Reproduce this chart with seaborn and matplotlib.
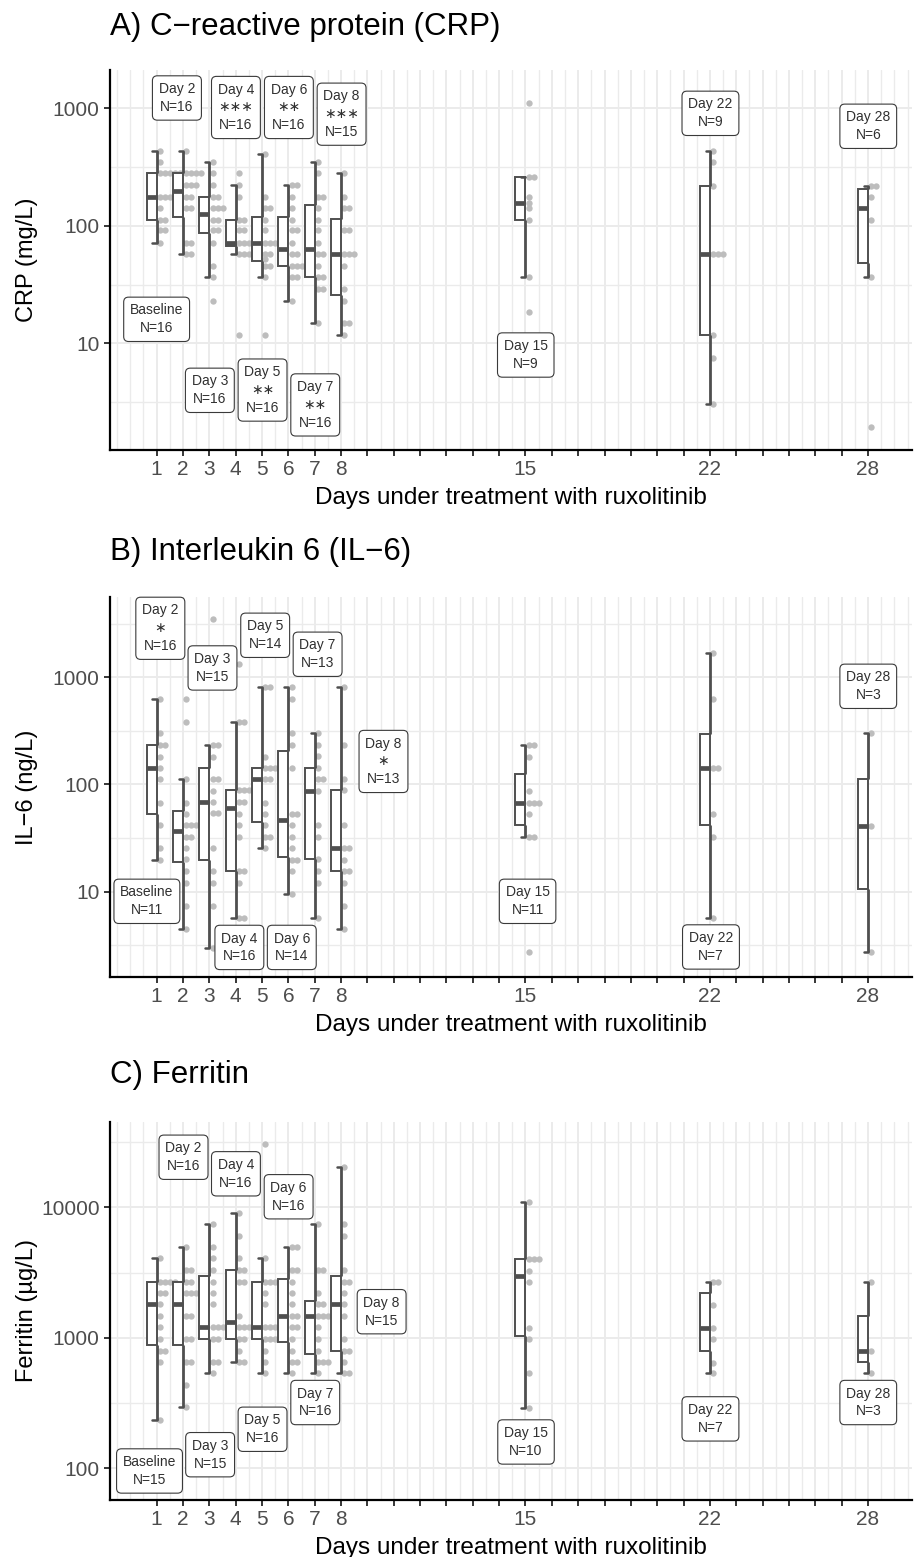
import numpy as np
import pandas as pd
import matplotlib
matplotlib.use("Agg")
import matplotlib.pyplot as plt
from matplotlib.ticker import FixedLocator, FuncFormatter, NullFormatter
import seaborn as sns

# ---------------- data ----------------
days = [1, 2, 3, 4, 5, 6, 7, 8, 15, 22, 28]
labelled_days = [1, 2, 3, 4, 5, 6, 7, 8, 15, 22, 28]

crp_values = [
    [435, 347, 280, 280, 280, 280, 280, 177, 177, 177, 141, 112, 112, 92, 92, 72],
    [435, 280, 280, 280, 280, 222, 222, 222, 177, 177, 141, 141, 72, 72, 57, 57],
    [347, 280, 222, 177, 177, 141, 141, 141, 112, 112, 92, 92, 72, 45.5, 36.5, 23.1],
    [280, 222, 177, 112, 112, 92, 92, 72, 72, 72, 72, 72, 57, 57, 57, 11.8],
    [408, 177, 141, 141, 112, 92, 72, 72, 72, 57, 57, 52, 45.5, 45.5, 36.5, 11.8],
    [222, 222, 177, 141, 112, 92, 92, 72, 57, 57, 45.5, 45.5, 45.5, 36.5, 36.5, 23.1],
    [347, 280, 177, 177, 141, 112, 92, 72, 57, 57, 45.5, 36.5, 36.5, 29, 29, 14.8],
    [280, 177, 141, 141, 92, 92, 57, 57, 57, 45.5, 29, 23.1, 14.8, 14.8, 11.8],
    [1100, 260, 260, 177, 157, 141, 112, 36.5, 18.6],
    [433, 347, 219, 57, 57, 57, 11.8, 7.55, 3.04],
    [219, 219, 177, 112, 36.5, 1.95],
]
il6_values = [
    [623, 300, 233, 233, 182, 143, 112, 67.6, 41.9, 25.4, 19.8],
    [623, 385, 112, 67.6, 52.8, 41.9, 41.9, 41.9, 32.6, 32.6, 25.4, 20, 15.6, 12.1, 7.36, 4.46],
    [3510, 233, 233, 182, 112, 112, 87, 69, 54.6, 54.6, 25.4, 15.6, 12.1, 7.36, 3.0],
    [1331, 385, 385, 89, 89, 89, 69, 69, 52.8, 41.9, 32.6, 15.6, 15.6, 12.1, 5.72, 5.72],
    [807, 807, 182, 143, 143, 143, 112, 112, 67.6, 52.8, 41.9, 32.6, 32.6, 25.4],
    [807, 623, 300, 233, 143, 52.8, 52.8, 41.9, 32.6, 25.4, 19.8, 19.8, 15.6, 9.46],
    [300, 233, 183, 143, 112, 112, 87, 41.9, 32.6, 20, 15.6, 12.1, 5.72],
    [807, 233, 112, 89, 41.9, 25.4, 25.4, 19.8, 15.6, 15.6, 12.1, 7.36, 4.46],
    [233, 233, 182, 87, 67.6, 67.6, 67.6, 52.8, 32.6, 32.6, 2.72],
    [1675, 623, 143, 143, 52.8, 32.6, 5.72],
    [300, 41.4, 2.72],
]
ferritin_values = [
    [4065, 2692, 2692, 2692, 2692, 2193, 2193, 1808, 1477, 1203, 979, 797, 797, 649, 236],
    [4936, 3310, 3310, 2692, 2692, 2193, 2193, 2193, 1477, 1477, 979, 979, 649, 649, 435, 293],
    [7410, 4936, 4065, 3310, 2692, 2193, 1808, 1203, 1203, 1203, 979, 979, 649, 649, 535],
    [9100, 6030, 4065, 3310, 3310, 2692, 2692, 1477, 1203, 1203, 1203, 979, 979, 797, 649, 649],
    [30500, 4065, 2692, 2692, 2692, 2193, 1808, 1203, 1203, 1203, 979, 979, 979, 797, 649, 535],
    [4936, 4936, 3310, 3310, 2692, 2193, 1808, 1477, 1477, 1203, 1203, 979, 797, 649, 649, 535],
    [7410, 3310, 3310, 2193, 1808, 1808, 1477, 1477, 1477, 1203, 979, 797, 649, 649, 649, 535],
    [20460, 7410, 6030, 3310, 2692, 2692, 2193, 1808, 1477, 979, 797, 797, 649, 535, 535],
    [11040, 4018, 4018, 4018, 3266, 2692, 1195, 975, 535, 288],
    [2692, 2692, 1783, 1195, 975, 644, 535],
    [2692, 797, 535],
]

crp_stars = ["", "", "", "***", "**", "**", "**", "***", "", "", ""]
il6_stars = ["", "*", "", "", "", "", "", "*", "", "", ""]
ferritin_stars = ["", "", "", "", "", "", "", "", "", "", ""]

crp_label_x = [1.0, 1.77, 3.02, 4.01, 5.02, 6.02, 7.02, 8.02, 15.01, 22.02, 28.01]
crp_label_y = [16, 1224, 3.98, 1016, 4.0, 1016, 2.99, 891, 7.95, 906, 703]
il6_label_x = [0.63, 1.14, 3.12, 4.14, 5.12, 6.13, 7.11, 9.61, 15.08, 22.04, 28.01]
il6_label_y = [8.13, 2864, 1222, 3.02, 2465, 3.02, 1640, 164, 8.13, 3.05, 824]
ferritin_label_x = [0.73, 2.02, 3.03, 4.01, 5.02, 6.01, 7.02, 9.54, 15.02, 22.02, 28.01]
ferritin_label_y = [95.3, 24200, 127, 18070, 199, 12050, 319, 1585, 159, 239, 319]

crp_ylim = (1.236, 2118)
il6_ylim = (1.6, 5610)
ferritin_ylim = (57.1, 45080)

# ---------------- style ----------------
sns.set_theme(style="ticks")
plt.rcParams["font.family"] = ["Liberation Sans", "DejaVu Sans"]

W, H = 917, 1557
fig = plt.figure(figsize=(W / 100, H / 100), dpi=100)
fig.patch.set_facecolor("white")

BOX_W = 0.38
CAP_W = 0.16
DOT_OFF = 0.13
DOT_STEP = 0.19
BOX_COL = "#4f4f4f"
DOT_COL = "#bdbdbd"
GRID_COL = "#ebebeb"


def add_axes_px(top, bottom, left=110, right=912):
    return fig.add_axes([left / W, 1 - bottom / H, (right - left) / W, (bottom - top) / H])


def draw_panel(ax, values, stars, lab_x, lab_y, ylim, ylabel, title, title_y):
    rows = [(d, v) for d, vals in zip(days, values) for v in vals]
    df = pd.DataFrame(rows, columns=["day", "value"])
    df["box_pos"] = df["day"] - BOX_W / 2
    df["stack"] = df.groupby(["day", "value"]).cumcount()
    df["dot_x"] = df["day"] + DOT_OFF + DOT_STEP * df["stack"]

    ax.set_yscale("log")
    sns.scatterplot(data=df, x="dot_x", y="value", ax=ax, color=DOT_COL, s=21,
                    linewidth=0, zorder=2, legend=False)
    n_before = len(ax.lines)
    sns.boxplot(data=df, x="box_pos", y="value", ax=ax, native_scale=True,
                log_scale=(False, True), width=BOX_W, whis=1.5, showfliers=False,
                color="white", saturation=1, linecolor=BOX_COL, linewidth=1.4,
                medianprops={"linewidth": 3.4},
                whiskerprops={"linewidth": 2.0}, capprops={"linewidth": 1.8},
                zorder=3)
    # move whiskers to the right edge of each box, caps as left-pointing brackets
    for line in ax.lines[n_before:]:
        xd = np.asarray(line.get_xdata(), float)
        yd = np.asarray(line.get_ydata(), float)
        if len(xd) < 2:
            continue
        if np.isclose(xd[0], xd[-1]):
            line.set_xdata(xd + BOX_W / 2)
        elif np.isclose(yd[0], yd[-1]):
            width = xd[-1] - xd[0]
            if not np.isclose(width, BOX_W, atol=1e-3):
                right = xd.mean() + BOX_W / 2
                line.set_xdata([right - CAP_W, right])

    # labels
    for d, vals, st, lx, ly in zip(days, values, stars, lab_x, lab_y):
        head = "Baseline" if d == 1 else f"Day {d}"
        st_txt = "\u2217" * len(st)
        txt = f"{head}\n{st_txt}\nN={len(vals)}" if st else f"{head}\nN={len(vals)}"
        ax.text(lx, ly, txt, ha="center", va="center", fontsize=10, linespacing=1.35,
                color="#303030", zorder=6,
                bbox=dict(boxstyle="round,pad=0.45,rounding_size=0.35", fc="white",
                          ec="#3a3a3a", lw=0.8))

    # axes
    ax.set_xlim(-0.77, 29.67)
    ax.set_ylim(*ylim)
    ax.xaxis.set_major_locator(FixedLocator(list(range(1, 29))))
    ax.xaxis.set_major_formatter(FuncFormatter(
        lambda v, p: str(int(round(v))) if int(round(v)) in labelled_days else ""))
    ax.xaxis.set_minor_locator(FixedLocator(list(np.arange(-0.5, 30.0, 0.5))))
    ax.xaxis.set_minor_formatter(NullFormatter())
    ax.yaxis.set_major_locator(FixedLocator([10.0 ** k for k in range(-1, 7)]))
    ax.yaxis.set_major_formatter(FuncFormatter(lambda v, p: f"{v:g}"))
    ax.yaxis.set_minor_locator(FixedLocator([10.0 ** (k + 0.5) for k in range(-1, 7)]))
    ax.yaxis.set_minor_formatter(NullFormatter())

    ax.grid(True, which="major", color=GRID_COL, linewidth=1.4)
    ax.grid(True, which="minor", color=GRID_COL, linewidth=1.0)
    ax.set_axisbelow(True)
    for s in ["top", "right"]:
        ax.spines[s].set_visible(False)
    for s in ["left", "bottom"]:
        ax.spines[s].set_linewidth(1.6)
        ax.spines[s].set_color("black")
    ax.tick_params(which="major", bottom=True, left=True, length=4.5, width=1.1,
                   color="black", labelsize=15, labelcolor="#4d4d4d", pad=3)
    ax.tick_params(which="minor", length=0)

    ax.set_xlabel("Days under treatment with ruxolitinib", fontsize=17.5, color="black")
    ax.xaxis.set_label_coords(0.5, -0.097)
    ax.set_ylabel(ylabel, fontsize=17, color="black")
    ax.yaxis.set_label_coords(-0.09, 0.5)
    fig.text(110 / W, 1 - title_y / H, title, fontsize=22.5, ha="left", va="center",
             color="black")


axA = add_axes_px(70, 450)
draw_panel(axA, crp_values, crp_stars, crp_label_x, crp_label_y, crp_ylim,
           "CRP (mg/L)", "A) C\u2212reactive protein (CRP)", 27)
axB = add_axes_px(597, 977)
draw_panel(axB, il6_values, il6_stars, il6_label_x, il6_label_y, il6_ylim,
           "IL\u22126 (ng/L)", "B) Interleukin 6 (IL\u22126)", 552)
axC = add_axes_px(1122, 1500)
draw_panel(axC, ferritin_values, ferritin_stars, ferritin_label_x, ferritin_label_y,
           ferritin_ylim, "Ferritin (\u00b5g/L)", "C) Ferritin", 1075)

fig.savefig("out.png", dpi=100, facecolor="white")
